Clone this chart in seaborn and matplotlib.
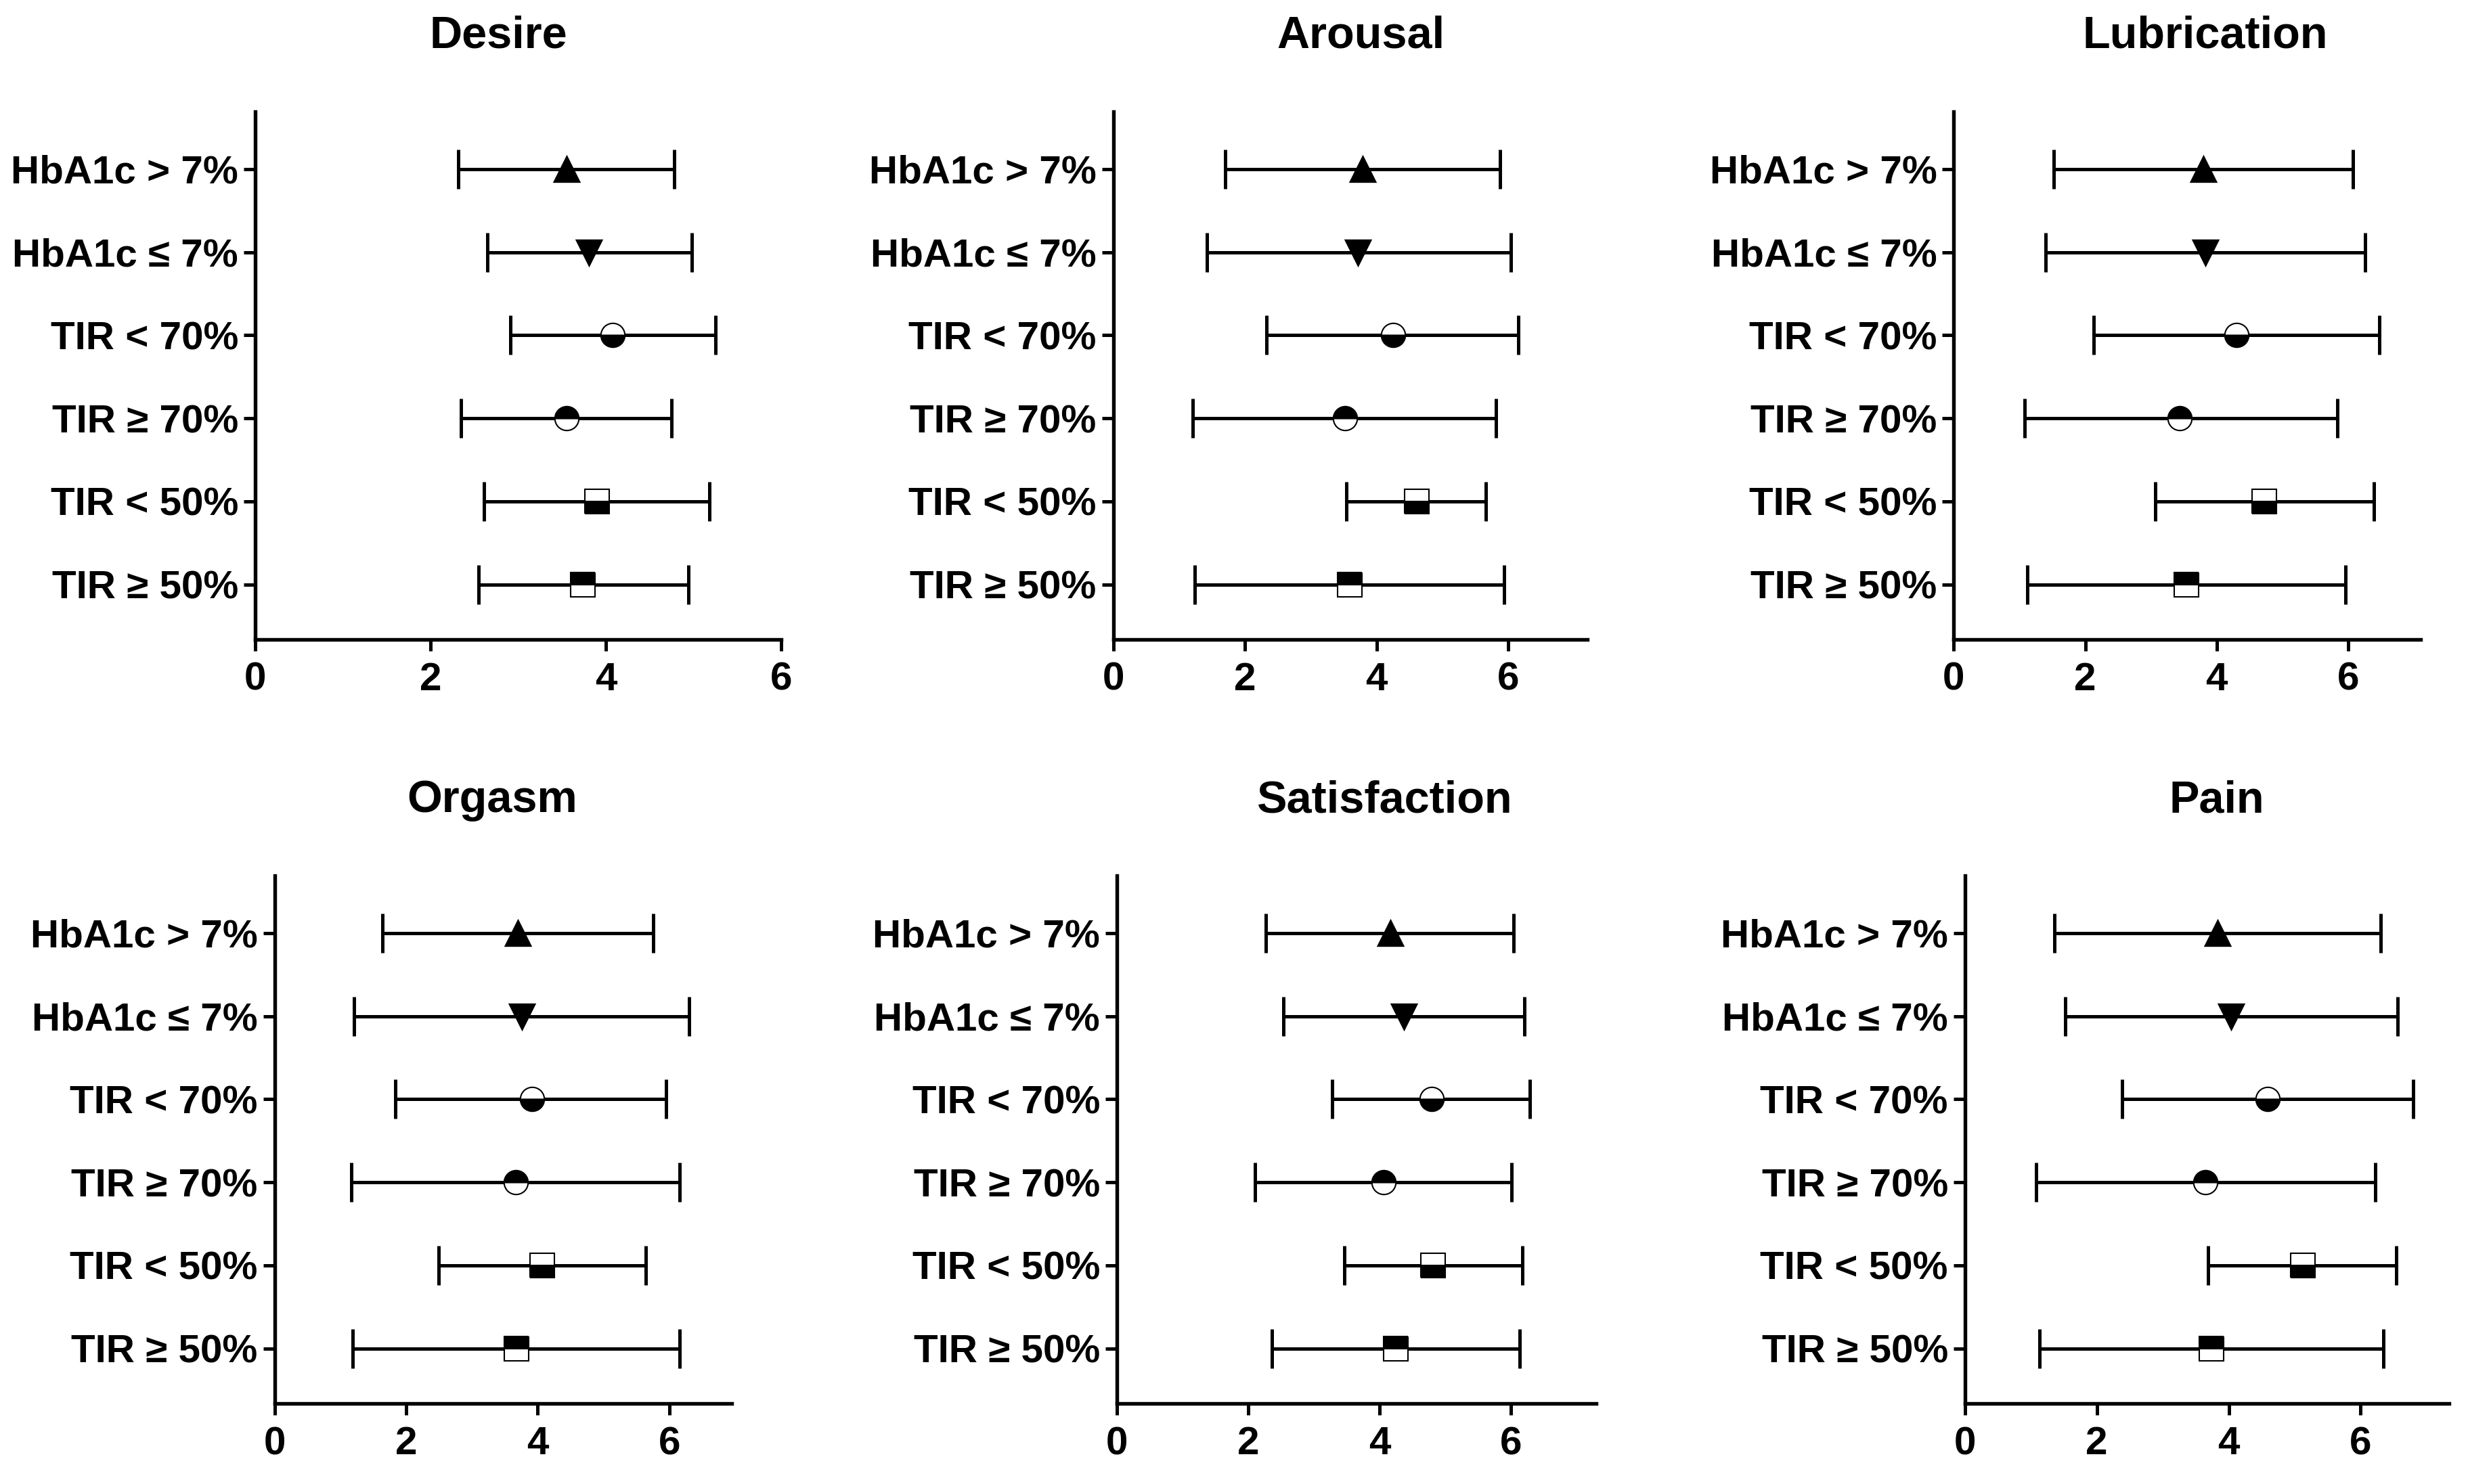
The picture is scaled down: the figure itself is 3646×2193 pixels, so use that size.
import numpy as np
import matplotlib
matplotlib.use('Agg')
import matplotlib.pyplot as plt
import seaborn as sns

# row labels, top to bottom
groups = ['HbA1c > 7%', 'HbA1c ≤ 7%', 'TIR < 70%', 'TIR ≥ 70%', 'TIR < 50%', 'TIR ≥ 50%']
domains = ['Desire', 'Arousal', 'Lubrication', 'Orgasm', 'Satisfaction', 'Pain']
x_ticks = [0, 2, 4, 6]

# mean and interval ends, one value per group
desire_mean = [3.55, 3.81, 4.08, 3.55, 3.90, 3.74]
desire_low = [2.32, 2.65, 2.91, 2.35, 2.61, 2.55]
desire_high = [4.78, 4.98, 5.25, 4.75, 5.18, 4.94]

arousal_mean = [3.79, 3.71, 4.25, 3.52, 4.61, 3.59]
arousal_low = [1.70, 1.42, 2.33, 1.21, 3.54, 1.24]
arousal_high = [5.87, 6.04, 6.15, 5.81, 5.66, 5.93]

lubrication_mean = [3.80, 3.83, 4.30, 3.44, 4.72, 3.54]
lubrication_low = [1.52, 1.40, 2.13, 1.08, 3.06, 1.12]
lubrication_high = [6.07, 6.26, 6.47, 5.83, 6.39, 5.96]

orgasm_mean = [3.70, 3.76, 3.91, 3.67, 4.07, 3.68]
orgasm_low = [1.64, 1.21, 1.84, 1.17, 2.49, 1.19]
orgasm_high = [5.75, 6.30, 5.95, 6.16, 5.64, 6.16]

satisfaction_mean = [4.16, 4.37, 4.79, 4.06, 4.81, 4.25]
satisfaction_low = [2.27, 2.54, 3.28, 2.10, 3.46, 2.36]
satisfaction_high = [6.04, 6.20, 6.29, 6.01, 6.17, 6.13]

pain_mean = [3.83, 4.04, 4.59, 3.65, 5.12, 3.74]
pain_low = [1.36, 1.52, 2.38, 1.08, 3.69, 1.13]
pain_high = [6.30, 6.56, 6.80, 6.22, 6.54, 6.35]

means = [desire_mean, arousal_mean, lubrication_mean, orgasm_mean, satisfaction_mean, pain_mean]
lows = [desire_low, arousal_low, lubrication_low, orgasm_low, satisfaction_low, pain_low]
highs = [desire_high, arousal_high, lubrication_high, orgasm_high, satisfaction_high, pain_high]

# marker shape and fill per group row
marker_shapes = ['^', 'v', 'o', 'o', 's', 's']
marker_fills = ['full', 'full', 'bottom', 'top', 'bottom', 'top']

sns.set_style('ticks')
plt.rcParams['font.family'] = ['Liberation Sans', 'DejaVu Sans']
plt.rcParams['font.weight'] = 'bold'
for key in ['text.color', 'axes.labelcolor', 'xtick.color', 'ytick.color', 'axes.edgecolor']:
    plt.rcParams[key] = 'black'

W, H = 1560.0, 938.0  # layout measured on a 1560 px wide copy
# (left px, right px, x max) for each panel
panel_x = [(161.3, 493.7, 6.0), (703.7, 1003.4, 7.2), (1235.0, 1530.0, 7.1),
           (173.5, 462.6, 6.95), (706.0, 1009.0, 7.3), (1242.0, 1548.0, 7.34)]
row_y = [(70.7, 404.0), (553.6, 887.0)]
title_x = [315, 860, 1394, 311, 875, 1401]
title_y = [23, 506]

fig = plt.figure(figsize=(3646 / 300, 2193 / 300), dpi=300)

for i, name in enumerate(domains):
    x0, x1, xmax = panel_x[i]
    top, bottom = row_y[i // 3]
    ax = fig.add_axes([x0 / W, 1 - bottom / H, (x1 - x0) / W, (bottom - top) / H])
    y = np.arange(len(groups))
    m = np.array(means[i])
    lo = m - np.array(lows[i])
    hi = np.array(highs[i]) - m
    ax.errorbar(m, y, xerr=[lo, hi], fmt='none', ecolor='black',
                elinewidth=1.2, capsize=7, capthick=1.2, zorder=2)
    for j in range(len(groups)):
        ax.plot(m[j], y[j], marker=marker_shapes[j], markersize=8.5,
                fillstyle=marker_fills[j], markerfacecolor='black',
                markerfacecoloralt='white', markeredgecolor='black',
                markeredgewidth=0.5 if marker_fills[j] != 'full' else 0.8,
                linestyle='none', zorder=3)
    ax.set_xlim(0, xmax)
    ax.set_ylim(5.66, -0.69)
    ax.set_xticks(x_ticks)
    ax.set_yticks(y)
    ax.set_yticklabels(groups)
    ax.tick_params(axis='y', length=4, width=1.2, pad=2, labelsize=14)
    ax.tick_params(axis='x', length=4, width=1.2, pad=4, labelsize=14)
    for lab in ax.get_xticklabels() + ax.get_yticklabels():
        lab.set_fontweight('bold')
    sns.despine(ax=ax)
    for side in ['left', 'bottom']:
        ax.spines[side].set_linewidth(1.3)
        ax.spines[side].set_color('black')
    fig.text(title_x[i] / W, 1 - title_y[i // 3] / H, name, ha='center', va='center',
             fontsize=16, fontweight='bold')

fig.savefig('out.png', dpi=300, facecolor='white')
